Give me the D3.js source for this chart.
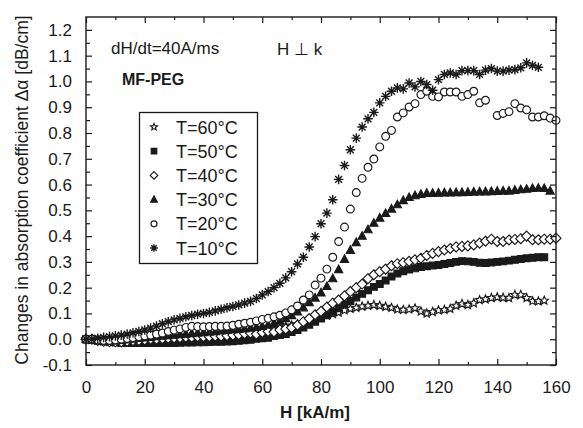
<!DOCTYPE html>
<html lang="en">
<head>
<meta charset="UTF-8">
<title>MF-PEG absorption</title>
<style>
  body { margin: 0; background: #fff; }
  svg text { font-family: Arial, "Liberation Sans", sans-serif; fill: #1a1a1a; }
</style>
</head>
<body>
<div class="canvas"></div>
<script src="https://cdnjs.cloudflare.com/ajax/libs/d3/7.8.5/d3.min.js"></script>
<script>
// field values H [kA/m], shared by all series
const H = [0, 2, 4, 6, 8, 10, 12, 14, 16, 18, 20, 22, 24, 26, 28, 30, 32, 34, 36, 38,
  40, 42, 44, 46, 48, 50, 52, 54, 56, 58, 60, 62, 64, 66, 68, 70, 72, 74, 76, 78,
  80, 82, 84, 86, 88, 90, 92, 94, 96, 98, 100, 102, 104, 106, 108, 110, 112, 114, 116, 118,
  120, 122, 124, 126, 128, 130, 132, 134, 136, 138, 140, 142, 144, 146, 148, 150, 152, 154, 156, 158, 160];

// delta alpha [dB/cm] per temperature, null = no point
const t60 = [0.0, -0.002, -0.005, -0.008, -0.01, -0.012, -0.013, -0.012, -0.01, -0.008,
  -0.005, -0.003, 0.0, 0.002, 0.004, 0.006, 0.008, 0.01, 0.012, 0.013,
  0.014, 0.015, 0.016, 0.018, 0.019, 0.02, 0.022, 0.024, 0.026, 0.028,
  0.03, 0.034, 0.038, 0.044, 0.05, 0.054, 0.058, 0.064, 0.07, 0.078,
  0.086, 0.092, 0.098, 0.104, 0.112, 0.118, 0.122, 0.127, 0.13, 0.133,
  0.13, 0.126, 0.122, 0.116, 0.114, 0.116, 0.12, 0.108, 0.1, 0.106,
  0.112, 0.114, 0.118, 0.13, 0.137, 0.133, 0.14, 0.152, 0.155, 0.16,
  0.163, 0.161, 0.16, 0.172, 0.172, 0.16, 0.148, 0.147, 0.15, null, null];

const t50 = [0.0, -0.003, -0.006, -0.008, -0.01, -0.012, -0.014, -0.015, -0.015, -0.015,
  -0.015, -0.015, -0.015, -0.015, -0.015, -0.015, -0.014, -0.013, -0.013, -0.012,
  -0.012, -0.011, -0.01, -0.01, -0.009, -0.008, -0.006, -0.004, -0.002, 0.002,
  0.004, 0.006, 0.012, 0.016, 0.02, 0.028, 0.036, 0.045, 0.056, 0.068,
  0.08, 0.093, 0.106, 0.12, 0.135, 0.148, 0.162, 0.176, 0.19, 0.203,
  0.214, 0.228, 0.243, 0.255, 0.264, 0.27, 0.275, 0.28, 0.283, 0.286,
  0.288, 0.292, 0.296, 0.3, 0.303, 0.302, 0.3, 0.297, 0.296, 0.298,
  0.3, 0.302, 0.305, 0.308, 0.311, 0.314, 0.316, 0.318, 0.318, null, null];

const t40 = [0.0, 0.0, -0.005, -0.008, -0.01, -0.01, -0.01, -0.008, -0.006, -0.005,
  -0.003, 0.0, 0.0, 0.002, 0.004, 0.005, 0.006, 0.008, 0.008, 0.01,
  0.01, 0.01, 0.012, 0.012, 0.014, 0.016, 0.018, 0.022, 0.024, 0.02,
  0.026, 0.03, 0.028, 0.036, 0.04, 0.045, 0.055, 0.068, 0.08, 0.095,
  0.108, 0.125, 0.14, 0.152, 0.168, 0.185, 0.2, 0.214, 0.235, 0.25,
  0.262, 0.272, 0.285, 0.293, 0.297, 0.302, 0.308, 0.314, 0.325, 0.333,
  0.34, 0.346, 0.352, 0.358, 0.36, 0.362, 0.366, 0.373, 0.38, 0.388,
  0.379, 0.379, 0.385, 0.387, 0.39, 0.4, 0.386, 0.386, 0.388, 0.388, 0.392];

const t30 = [0.0, 0.0, -0.004, -0.006, -0.006, -0.006, -0.004, -0.002, 0.0, 0.003,
  0.005, 0.007, 0.01, 0.012, 0.014, 0.016, 0.018, 0.02, 0.022, 0.024,
  0.026, 0.028, 0.03, 0.032, 0.034, 0.036, 0.038, 0.04, 0.043, 0.046,
  0.05, 0.055, 0.062, 0.07, 0.08, 0.092, 0.106, 0.122, 0.142, 0.16,
  0.18, 0.205, 0.235, 0.27, 0.31, 0.345, 0.375, 0.4, 0.425, 0.45,
  0.47, 0.488, 0.505, 0.522, 0.538, 0.55, 0.557, 0.562, 0.566, 0.566,
  0.567, 0.568, 0.568, 0.569, 0.569, 0.57, 0.571, 0.572, 0.572, 0.573,
  0.574, 0.575, 0.575, 0.578, 0.58, 0.582, 0.585, 0.586, 0.585, 0.575, null];

const t20 = [0.0, 0.0, -0.003, -0.005, -0.005, -0.003, 0.0, 0.003, 0.006, 0.01,
  0.013, 0.016, 0.02, 0.024, 0.03, 0.035, 0.04, 0.046, 0.05, 0.049,
  0.048, 0.049, 0.05, 0.05, 0.051, 0.054, 0.058, 0.062, 0.066, 0.071,
  0.077, 0.081, 0.087, 0.093, 0.102, 0.114, 0.129, 0.152, 0.172, 0.21,
  0.237, 0.272, 0.318, 0.379, 0.435, 0.505, 0.569, 0.624, 0.667, 0.699,
  0.746, 0.787, 0.81, 0.862, 0.878, 0.901, 0.914, 0.949, 0.962, 0.942,
  0.94, 0.959, 0.959, 0.959, 0.942, 0.949, 0.962, 0.917, 0.927, null,
  0.868, 0.876, 0.883, 0.914, 0.897, 0.89, 0.862, 0.862, 0.867, 0.858, 0.849];

const t10 = [0.0, 0.0, 0.004, 0.007, 0.01, 0.013, 0.016, 0.02, 0.025, 0.03,
  0.036, 0.043, 0.051, 0.06, 0.068, 0.075, 0.081, 0.087, 0.092, 0.097,
  0.1, 0.104, 0.11, 0.116, 0.122, 0.127, 0.133, 0.14, 0.147, 0.158,
  0.172, 0.185, 0.2, 0.217, 0.238, 0.262, 0.292, 0.318, 0.358, 0.398,
  0.448, 0.489, 0.541, 0.62, 0.674, 0.735, 0.78, 0.823, 0.855, 0.88,
  0.917, 0.942, 0.962, 0.975, 0.971, 0.994, 0.979, 1.0, 0.988, 0.966,
  1.007, 1.027, 1.033, 1.027, 1.042, 1.042, 1.042, 1.027, 1.044, 1.05,
  1.04, 1.04, 1.044, 1.046, 1.053, 1.072, 1.062, 1.055, null, null, null];

const labels = ['T=60°C', 'T=50°C', 'T=40°C', 'T=30°C', 'T=20°C', 'T=10°C'];
const allSeries = [t60, t50, t40, t30, t20, t10];
const markers = ['star', 'square', 'diamond', 'triangle', 'circle', 'asterisk'];

const xTicks = [0, 20, 40, 60, 80, 100, 120, 140, 160];
const yTicks = [-0.1, 0.0, 0.1, 0.2, 0.3, 0.4, 0.5, 0.6, 0.7, 0.8, 0.9, 1.0, 1.1, 1.2];

const ink = '#1a1a1a';

const svg = d3.select('.canvas')
  .append('svg')
    .attr('width', 583)
    .attr('height', 428);

const margin = {top: 17, right: 27, bottom: 63, left: 86};
const width = 583 - margin.left - margin.right;
const height = 428 - margin.top - margin.bottom;

const x = d3.scaleLinear().domain([0, 160]).range([margin.left, margin.left + width]);
const y = d3.scaleLinear().domain([-0.1, 1.25]).range([margin.top + height, margin.top]);

// marker path for a given shape and size (size ~ half width)
function markerPath(kind, s) {
  const p = d3.path();
  if (kind === 'square') {
    p.rect(-s, -s, 2 * s, 2 * s);
  } else if (kind === 'diamond') {
    p.moveTo(0, -s); p.lineTo(s, 0); p.lineTo(0, s); p.lineTo(-s, 0); p.closePath();
  } else if (kind === 'triangle') {
    p.moveTo(0, -s * 1.1); p.lineTo(s, s * 0.75); p.lineTo(-s, s * 0.75); p.closePath();
  } else if (kind === 'circle') {
    p.arc(0, 0, s, 0, 2 * Math.PI);
  } else if (kind === 'star') {
    for (let i = 0; i < 10; i++) {
      const r = i % 2 === 0 ? s : s * 0.45;
      const a = -Math.PI / 2 + i * Math.PI / 5;
      if (i === 0) p.moveTo(r * Math.cos(a), r * Math.sin(a));
      else p.lineTo(r * Math.cos(a), r * Math.sin(a));
    }
    p.closePath();
  } else if (kind === 'asterisk') {
    for (let i = 0; i < 4; i++) {
      const a = i * Math.PI / 4;
      p.moveTo(-s * Math.cos(a), -s * Math.sin(a));
      p.lineTo(s * Math.cos(a), s * Math.sin(a));
    }
  }
  return p.toString();
}

function styleMarker(sel, kind) {
  const filled = kind === 'square' || kind === 'triangle';
  sel.attr('fill', filled ? ink : (kind === 'asterisk' ? 'none' : '#fff'))
    .attr('stroke', ink)
    .attr('stroke-width', kind === 'asterisk' ? 1.4 : 1.15);
}

const sizes = {star: 4.4, square: 3.4, diamond: 5, triangle: 4.1, circle: 3.9, asterisk: 4.8};

// data points
allSeries.forEach((vals, i) => {
  const kind = markers[i];
  const pts = H.map((h, j) => ({h: h, v: vals[j]})).filter(d => d.v !== null);
  const g = svg.append('g').attr('class', 'series-' + i);
  const m = g.selectAll('path')
    .data(pts)
    .enter()
    .append('path')
      .attr('d', markerPath(kind, sizes[kind]))
      .attr('transform', d => `translate(${x(d.h)}, ${y(d.v)})`);
  styleMarker(m, kind);
  if (kind === 'asterisk') {
    g.selectAll('circle')
      .data(pts)
      .enter()
      .append('circle')
        .attr('cx', d => x(d.h))
        .attr('cy', d => y(d.v))
        .attr('r', 1.5)
        .attr('fill', ink);
  }
});

// axes, ticks pointing inward on all four sides
const fmtY = d => d3.format('.1f')(d).replace('\u2212', '-');
const xMinor = [10, 30, 50, 70, 90, 110, 130, 150];
const yMinor = [-0.05, 0.05, 0.15, 0.25, 0.35, 0.45, 0.55, 0.65, 0.75, 0.85, 0.95, 1.05, 1.15];

function drawAxis(axis, transform) {
  const g = svg.append('g')
    .attr('transform', transform)
    .call(axis);
  g.select('.domain').remove();
  g.selectAll('line').attr('stroke', ink).attr('stroke-width', 1.2);
  g.selectAll('text').style('font-size', '17px').attr('fill', ink);
  return g;
}

const bottom = margin.top + height;
const right = margin.left + width;

drawAxis(d3.axisBottom(x).tickValues(xTicks).tickSize(-6).tickPadding(16).tickFormat(d3.format('d')),
  `translate(0, ${bottom})`);
drawAxis(d3.axisBottom(x).tickValues(xMinor).tickSize(-3).tickFormat(''), `translate(0, ${bottom})`);
drawAxis(d3.axisTop(x).tickValues(xTicks).tickSize(-6).tickFormat(''), `translate(0, ${margin.top})`);
drawAxis(d3.axisTop(x).tickValues(xMinor).tickSize(-3).tickFormat(''), `translate(0, ${margin.top})`);

drawAxis(d3.axisLeft(y).tickValues(yTicks).tickSize(-6).tickPadding(14).tickFormat(fmtY),
  `translate(${margin.left}, 0)`);
drawAxis(d3.axisLeft(y).tickValues(yMinor).tickSize(-4).tickFormat(''), `translate(${margin.left}, 0)`);
drawAxis(d3.axisRight(y).tickValues(yTicks).tickSize(-6).tickFormat(''), `translate(${right}, 0)`);
drawAxis(d3.axisRight(y).tickValues(yMinor).tickSize(-4).tickFormat(''), `translate(${right}, 0)`);

// frame
svg.append('rect')
  .attr('x', margin.left)
  .attr('y', margin.top)
  .attr('width', width)
  .attr('height', height)
  .attr('fill', 'none')
  .attr('stroke', ink)
  .attr('stroke-width', 1.4);

// axis titles
svg.append('text')
  .attr('x', (margin.left + right) / 2 - 6)
  .attr('y', 418)
  .attr('text-anchor', 'middle')
  .style('font-size', '17px')
  .style('font-weight', 'bold')
  .text('H [kA/m]');

svg.append('text')
  .attr('transform', `translate(28, 190) rotate(-90)`)
  .attr('text-anchor', 'middle')
  .style('font-size', '17.5px')
  .text('Changes in absorption coefficient \u0394\u03b1 [dB/cm]');

// annotations
svg.append('text')
  .attr('x', 111).attr('y', 54)
  .style('font-size', '17px')
  .text('dH/dt=40A/ms');

svg.append('text')
  .attr('x', 122).attr('y', 85)
  .style('font-size', '16px')
  .style('font-weight', 'bold')
  .text('MF-PEG');

svg.append('text')
  .attr('x', 277).attr('y', 55)
  .style('font-size', '17px')
  .text('H \u22a5 k');

// legend
const legend = svg.append('g');
legend.append('rect')
  .attr('x', 139.5).attr('y', 112.5)
  .attr('width', 118).attr('height', 151)
  .attr('fill', '#fff')
  .attr('stroke', ink)
  .attr('stroke-width', 1.3);

const legendSizes = {star: 3.6, square: 2.8, diamond: 3.8, triangle: 3.4, circle: 3, asterisk: 3.8};

labels.forEach((lab, i) => {
  const cy = 127 + i * 24.2;
  const kind = markers[i];
  const m = legend.append('path')
    .attr('d', markerPath(kind, legendSizes[kind]))
    .attr('transform', `translate(154, ${cy})`);
  styleMarker(m, kind);
  if (kind === 'asterisk') {
    legend.append('circle').attr('cx', 154).attr('cy', cy).attr('r', 1.2).attr('fill', ink);
  }
  legend.append('text')
    .attr('x', 176)
    .attr('y', cy + 6.5)
    .style('font-size', '18px')
    .text(lab);
});
</script>
</body>
</html>
